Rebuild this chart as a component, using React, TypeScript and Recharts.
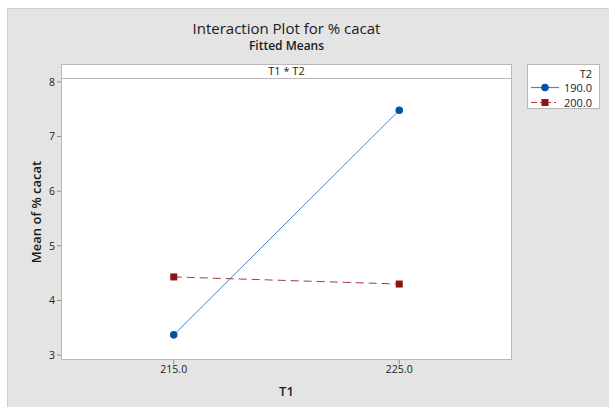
import React from 'react'
import { LineChart, Line, XAxis, YAxis } from 'recharts'

const t1Levels = [215, 225]
const t2Levels = ['190.0', '200.0']
const mean190 = [3.37, 7.48]
const mean200 = [4.43, 4.3]
const yTicks = [3, 4, 5, 6, 7, 8]

const data = t1Levels.map((t1, i) => ({ t1, m190: mean190[i], m200: mean200[i] }))

const font = '"Open Sans", "Noto Sans", sans-serif'
const blue = '#0054a6'
const blueLine = '#4a86c8'
const red = '#8c1414'
const redLine = '#a83a3a'

const SquareDot = (props: any) => {
  const { cx, cy, key } = props
  if (cx == null || cy == null) return null
  return <rect key={key} x={cx - 3.5} y={cy - 3.5} width={7} height={7} fill={red} />
}

const LegendRow = ({ label, color, lineColor, dash, square }: any) => (
  <div style={{ position: 'relative', height: 15 }}>
    <svg width={30} height={15} style={{ position: 'absolute', left: 3, top: 0 }}>
      <line x1={0} y1={7.5} x2={28} y2={7.5} stroke={lineColor} strokeWidth={1.2} strokeDasharray={dash} />
      {square ? (
        <rect x={10.5} y={4} width={7} height={7} fill={color} />
      ) : (
        <circle cx={14} cy={7.5} r={3.8} fill={color} />
      )}
    </svg>
    <span style={{ position: 'absolute', right: 7, top: 0, fontSize: 11, lineHeight: '15px' }}>{label}</span>
  </div>
)

const App = () => {
  return (
    <div style={{ position: 'absolute', left: 0, top: 0, width: 609, height: 407, background: '#fff', fontFamily: font, color: '#222' }}>
      <div style={{ position: 'absolute', left: 7, top: 8, width: 602, height: 399, background: '#e4e4e4', borderLeft: '1px solid #d0d0d0', borderTop: '1px solid #d0d0d0' }} />
      <div style={{ position: 'absolute', left: 0, width: 573, top: 21, textAlign: 'center', fontSize: 15, lineHeight: '15px', fontWeight: 500, color: '#1a1a1a' }}>
        Interaction Plot for % cacat
      </div>
      <div style={{ position: 'absolute', left: 0, width: 573, top: 39, textAlign: 'center', fontSize: 12, lineHeight: '13px', fontWeight: 600, color: '#1a1a1a' }}>
        Fitted Means
      </div>
      {/* panel strip + plot background */}
      <div style={{ position: 'absolute', left: 61, top: 64, width: 451, height: 296, background: '#fff', border: '1px solid #b8b8b8', boxSizing: 'border-box' }} />
      <div style={{ position: 'absolute', left: 61, top: 64, width: 451, height: 15, borderBottom: '1px solid #b8b8b8', boxSizing: 'border-box', textAlign: 'center', fontSize: 11, lineHeight: '13px' }}>
        T1 * T2
      </div>
      <div style={{ position: 'absolute', left: 36, top: 212, transform: 'translate(-50%, -50%) rotate(-90deg)', whiteSpace: 'nowrap', fontSize: 13, fontWeight: 600, color: '#1a1a1a' }}>
        Mean of % cacat
      </div>
      <div style={{ position: 'absolute', left: 0, width: 573, top: 382, textAlign: 'center', fontSize: 13, fontWeight: 600, color: '#1a1a1a' }}>T1</div>
      {/* legend */}
      <div style={{ position: 'absolute', left: 527, top: 64, width: 73, height: 45, background: '#fff', border: '1px solid #b8b8b8', boxSizing: 'border-box', paddingTop: 2 }}>
        <div style={{ textAlign: 'right', paddingRight: 7, fontSize: 11, lineHeight: '13px' }}>T2</div>
        <LegendRow label={t2Levels[0]} color={blue} lineColor={blueLine} />
        <LegendRow label={t2Levels[1]} color={red} lineColor={redLine} dash="6 3 2 3" square />
      </div>
      <div style={{ position: 'absolute', left: 0, top: 0 }}>
        <LineChart width={609} height={407} data={data} margin={{ top: 78, right: 97, left: 21, bottom: 17 }}>
          <XAxis
            dataKey="t1"
            type="number"
            domain={[210, 230]}
            ticks={t1Levels}
            tickFormatter={(v: number) => v.toFixed(1)}
            height={30}
            axisLine={false}
            tickSize={4}
            tickLine={{ stroke: '#888' }}
            tick={{ fill: '#222', fontSize: 10.5, fontFamily: font }}
          />
          <YAxis
            type="number"
            domain={[2.91, 8.07]}
            ticks={yTicks}
            allowDataOverflow
            width={40}
            axisLine={false}
            tickSize={4}
            tickLine={{ stroke: '#888' }}
            tick={{ fill: '#222', fontSize: 10.5, fontFamily: font }}
          />
          <Line
            dataKey="m190"
            stroke={blueLine}
            strokeWidth={1}
            dot={{ r: 3.8, fill: blue, stroke: blue, strokeWidth: 0 }}
            isAnimationActive={false}
          />
          <Line
            dataKey="m200"
            stroke={redLine}
            strokeWidth={1}
            strokeDasharray="8 5"
            dot={SquareDot}
            isAnimationActive={false}
          />
        </LineChart>
      </div>
    </div>
  )
}

export default App
